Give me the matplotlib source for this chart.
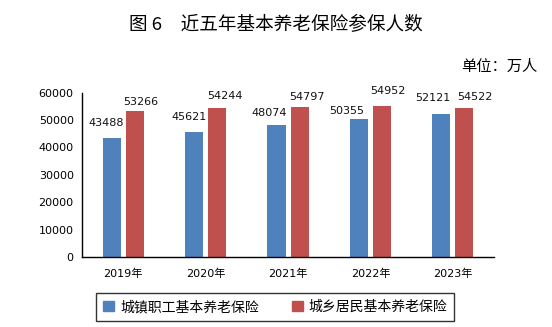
import matplotlib.pyplot as plt
import numpy as np
from matplotlib.patches import Patch

plt.rcParams['font.family'] = ['DejaVu Sans', 'Noto Sans CJK SC']

years = ['2019年', '2020年', '2021年', '2022年', '2023年']
urban_workers = [43488, 45621, 48074, 50355, 52121]
rural_residents = [53266, 54244, 54797, 54952, 54522]
series_names = ['城镇职工基本养老保险', '城乡居民基本养老保险']

# label nudges in pixels (dx, dy above bar top) - the source has hand placed labels
blue_nudge = [(-6, 15), (-5, 15), (-7, 12), (-12, 8), (-8, 16)]
red_nudge = [(6, 9), (8, 12), (7, 10), (6, 15), (10, 11)]

blue = '#4F81BD'
red = '#C0504D'

fig = plt.figure(figsize=(5.52, 3.27), dpi=100)
ax = fig.add_axes([0.1486, 0.214, 0.7464, 0.503])

x = np.arange(len(years))
w = 0.22
b1 = ax.bar(x - 0.14, urban_workers, w, color=blue)
b2 = ax.bar(x + 0.14, rural_residents, w, color=red)

px = 0.72  # points per pixel at 100 dpi
for bars, vals, nudge in [(b1, urban_workers, blue_nudge), (b2, rural_residents, red_nudge)]:
    for r, v, (dx, dy) in zip(bars, vals, nudge):
        ax.annotate(str(v), (r.get_x() + r.get_width() / 2, v),
                    xytext=(dx * px, dy * px), textcoords='offset points',
                    ha='center', va='center', fontsize=8, color='#111111')

ax.set_xlim(-0.5, len(years) - 0.5)
ax.set_ylim(0, 60000)
ax.set_yticks(range(0, 60001, 10000))
ax.set_xticks(x)
ax.set_xticklabels(years, fontsize=8)
ax.tick_params(axis='y', labelsize=8, length=0, pad=6)
ax.tick_params(axis='x', length=0, pad=8)
for s in ['top', 'right']:
    ax.spines[s].set_visible(False)
for s in ['left', 'bottom']:
    ax.spines[s].set_color('black')
    ax.spines[s].set_linewidth(1)

fig.text(0.5, 1 - 25 / 327, '图 6　近五年基本养老保险参保人数', ha='center', va='center',
         fontsize=13.4, family=['Noto Sans CJK SC'])
fig.text(537 / 552, 1 - 66 / 327, '单位：万人', ha='right', va='center',
         fontsize=11, family=['Noto Sans CJK SC'])

handles = [Patch(color=blue), Patch(color=red)]
leg = fig.legend(handles, series_names, loc='center', bbox_to_anchor=(0.499, 1 - 307 / 327),
                 ncol=2, frameon=True, fancybox=False, edgecolor='black',
                 prop={'family': 'Noto Sans CJK SC', 'size': 10},
                 handlelength=0.8, handleheight=0.8, handletextpad=0.4,
                 columnspacing=2.4, borderpad=0.5)
leg.get_frame().set_linewidth(1)

fig.savefig('out.png', dpi=100)
